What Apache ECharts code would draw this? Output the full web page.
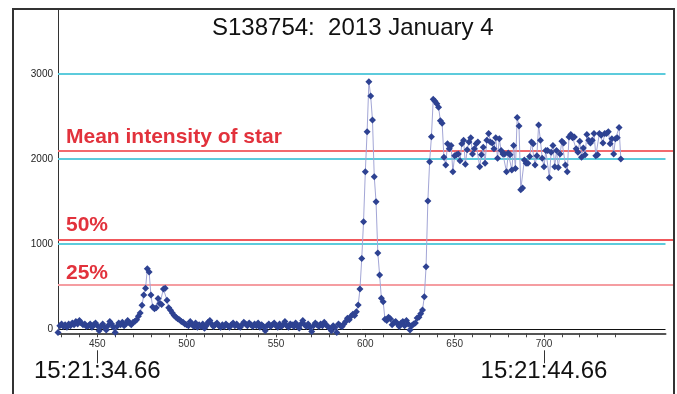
<!DOCTYPE html>
<html>
<head>
<meta charset="utf-8">
<script src="https://cdn.jsdelivr.net/npm/echarts@6/dist/echarts.min.js"></script>
<style>
  html, body { margin: 0; padding: 0; background: #fff; }
  #chart { width: 677px; height: 394px; }
</style>
</head>
<body>
<div id="chart"></div>
<script>
var titleText = 'S138754:  2013 January 4';

// frame numbers start here, one reading per frame
var xStart = 428;
var yValues = [
    -40, 40, 60, 30, 50, 20, 60, 40, 70, 50, 90, 60, 100, 70, 50, 60, 30, 40, 60, 20,
    50, 70, 40, -20, 30, 60, 20, -10, 40, 90, 60, 20, -40, 30, 70, 50, 80, 40, 60, 100,
    70, 50,
    80, 90, 110, 150, 190, 280, 400, 480, 710, 670, 400, 260, 240, 250, 360, 300, 290, 470,
    480, 340, 250, 220, 190, 160, 140, 120, 110, 90, 80, 60,
    50, 40, 90, 60, 30, 70, 20, 50, 30, 60,
    10, 40, 80, 100, 60, 30, 50, 70, 40, 20,
    50, 30, 60, 40, 20, 50, 70, 40, 60, 30,
    20, 50, 80, 60, 40, 70, 50, 30, 60, 40,
    70, 20, 50, 30, -20, 40, 60, 30, 50, 70,
    40, 20, 60, 30, 50, 90, 40, 20, 60, 50,
    30, 70, 40, 10, 60, 100, 50, 30, 60, 20,
    -30, 40, 70, 50, 30, 60, 40, 80, 50, 30,
    10, -20, 40, 20, -40, 60, 40, 30,
    60, 90, 126, 110, 150, 173, 160, 204, 282, 470, 831, 1262, 1851, 2321, 2910, 2741,
    2459, 1792, 1498, 894, 635, 361, 321, 114,
    100, 140, 120, 50, 80, 90, 60, 30, 70, 90, 40, 100, 60, -10, 40, 60, 70, 130, 140, 180,
    224, 380, 733, 1506, 1968, 2262, 2702, 2680, 2650, 2610, 2450, 2420, 2020,
    1930, 2180, 2120, 2160, 1850, 2040, 2050, 2060, 1980, 2180,
    2220, 1940, 2110, 2200, 2250, 2060, 2120, 2180, 2200, 1910,
    2050, 2140, 1950, 2220, 2300, 2200, 2190, 2120, 2250, 2010,
    2240, 2100, 2060, 2060, 1850, 2070, 2050, 1870, 2160, 1890,
    2490, 2390, 1640, 1660, 1990, 1950, 1950, 2030, 2200, 2180,
    1930, 2040, 2400, 2220, 2010, 1910, 2100, 2100, 1780, 2080,
    2160, 1910, 2100, 1900, 2060, 2210, 2190, 1930, 1850, 2260,
    2290, 2250, 2260, 2120, 2080, 2210, 2020, 2130, 2050, 2290,
    2220, 2190, 2220, 2300, 2040, 2050, 2300, 2280, 2190, 2300,
    2300, 2320, 2180, 2240, 2060, 2240, 2250, 2370, 2000
];

var yLabelValues = [0, 1000, 2000, 3000];
var gridLevels = [1000, 2000, 3000];
var xTickValues = [430, 440, 450, 460, 470, 480, 490, 500, 510, 520, 530, 540, 550, 560, 570, 580,
                   590, 600, 610, 620, 630, 640, 650, 660, 670, 680, 690, 700, 710, 720, 730, 740];
var xLabelValues = [450, 500, 550, 600, 650, 700];
var timeTickValues = [450, 700];
var timeLabels = ['15:21:34.66', '15:21:44.66'];

var meanLevel = 2092;
var levelNames = ['Mean intensity of star', '50%', '25%'];
var levelValues = [meanLevel, 1046, 523];

var chart = echarts.init(document.getElementById('chart'));

var points = yValues.map((v, i) => [xStart + i, v]);

var redColors = ['#f26a6e', '#f0585c', '#f59da1'];
var labelGaps = [4, 4, 1];

var option = {
    animation: false,
    backgroundColor: '#fff',
    textStyle: { fontFamily: 'Liberation Sans, Arial, sans-serif' },
    title: {
        text: titleText,
        left: 212,
        top: 16,
        padding: 0,
        textStyle: { fontSize: 24, fontWeight: 'normal', color: '#111', fontFamily: 'Liberation Sans' }
    },
    grid: [
        { left: 58, right: 11.5, top: 9, bottom: 60.7 },
        { left: 58, right: 3.5, top: 9, bottom: 60.7 }
    ],
    xAxis: [
        {
            type: 'value', gridIndex: 0, min: 428, max: 768,
            axisLine: { onZero: false, lineStyle: { color: '#555', width: 2 } },
            axisTick: { customValues: xTickValues, length: 4, lineStyle: { color: '#444' } },
            axisLabel: {
                customValues: xLabelValues, fontSize: 10, margin: 6, color: '#333',
                fontFamily: 'Liberation Sans Narrow, Liberation Sans'
            },
            splitLine: { show: false }
        },
        {
            type: 'value', gridIndex: 0, position: 'bottom', offset: 17, min: 428, max: 768,
            axisLine: { show: false, onZero: false },
            axisTick: { customValues: timeTickValues, length: 13, lineStyle: { color: '#333' } },
            axisLabel: {
                customValues: timeTickValues, fontSize: 24, margin: 9, color: '#111',
                formatter: v => timeLabels[timeTickValues.indexOf(v)]
            },
            splitLine: { show: false }
        },
        { type: 'value', gridIndex: 1, min: 0, max: 1, show: false }
    ],
    yAxis: [
        {
            type: 'value', gridIndex: 0, min: -50, max: 3765,
            axisLine: { show: true, onZero: false, lineStyle: { color: '#333', width: 1 } },
            axisTick: { show: false },
            axisLabel: {
                customValues: yLabelValues, fontSize: 10, margin: 5, color: '#222',
                fontFamily: 'Liberation Sans Narrow, Liberation Sans',
                formatter: v => String(v)
            },
            splitLine: { show: false }
        },
        { type: 'value', gridIndex: 1, min: -50, max: 3765, show: false }
    ],
    series: [
        {
            type: 'line', xAxisIndex: 0, yAxisIndex: 0, data: [], symbol: 'none', z: 1,
            markLine: {
                silent: true, symbol: 'none', animation: false,
                label: { show: false },
                data: [{ yAxis: 0, lineStyle: { color: '#111', width: 1, type: 'solid' } }].concat(
                    gridLevels.map(v => ({ yAxis: v, lineStyle: { color: '#5ccbdc', width: 2, type: 'solid' } })))
            }
        },
        {
            type: 'line', xAxisIndex: 2, yAxisIndex: 1, data: [], symbol: 'none', z: 2,
            markLine: {
                silent: true, symbol: 'none', animation: false,
                data: levelValues.map((v, i) => ({
                    yAxis: v,
                    lineStyle: { color: redColors[i], width: 2, type: 'solid' },
                    label: {
                        show: true, formatter: levelNames[i], position: 'insideStartTop',
                        distance: [8, labelGaps[i]], color: '#e2323c', fontSize: 21, fontWeight: 'bold',
                        fontFamily: 'Liberation Sans'
                    }
                }))
            }
        },
        {
            type: 'line', xAxisIndex: 0, yAxisIndex: 0, data: points, z: 5, clip: false,
            symbol: 'diamond', symbolSize: 7,
            itemStyle: { color: '#2e4292' },
            lineStyle: { color: '#a3a6d6', width: 1 }
        }
    ],
    graphic: [
        {
            type: 'rect', silent: true, z: 100,
            shape: { x: 13, y: 9, width: 661, height: 420 },
            style: { fill: 'none', stroke: '#333', lineWidth: 2 }
        }
    ]
};

chart.setOption(option, true);
</script>
</body>
</html>
